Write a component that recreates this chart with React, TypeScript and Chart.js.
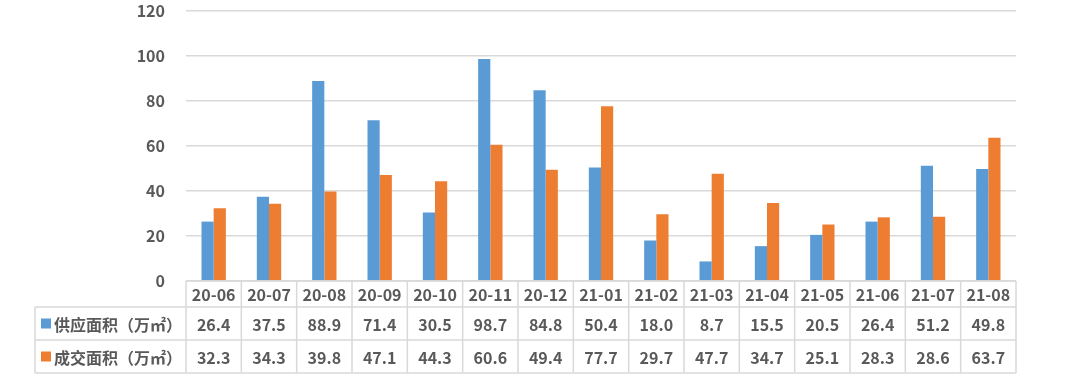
import React, { useEffect, useRef } from "react";
import { Chart, registerables } from "chart.js";

Chart.register(...registerables);

const categories = ["20-06", "20-07", "20-08", "20-09", "20-10", "20-11", "20-12", "21-01", "21-02", "21-03", "21-04", "21-05", "21-06", "21-07", "21-08"];
const supplyValues = [26.4, 37.5, 88.9, 71.4, 30.5, 98.7, 84.8, 50.4, 18.0, 8.7, 15.5, 20.5, 26.4, 51.2, 49.8];
const dealValues = [32.3, 34.3, 39.8, 47.1, 44.3, 60.6, 49.4, 77.7, 29.7, 47.7, 34.7, 25.1, 28.3, 28.6, 63.7];
const seriesNames = ["供应面积（万㎡）", "成交面积（万㎡）"];
const seriesColors = ["#5B9BD5", "#ED7D31"];

const FONT = '"Microsoft YaHei", "Noto Sans CJK SC", "Noto Sans", sans-serif';
const TEXT_COLOR = "#595959";
const LINE_COLOR = "#D9D9D9";

const tablePlugin = {
  id: "dataTable",
  afterDraw(chart: any) {
    const ctx = chart.ctx as CanvasRenderingContext2D;
    const xs = chart.scales.x;
    const area = chart.chartArea;
    const n = categories.length;
    const colW = (area.right - area.left) / n;
    const headerTop = area.bottom;
    const row1Top = headerTop + 26;
    const row2Top = row1Top + 33;
    const tableBottom = row2Top + 33;
    const labelLeft = 35;

    ctx.save();
    ctx.strokeStyle = LINE_COLOR;
    ctx.lineWidth = 1.5;
    ctx.beginPath();
    ctx.moveTo(area.left, headerTop);
    ctx.lineTo(area.right, headerTop);
    ctx.moveTo(labelLeft, row1Top);
    ctx.lineTo(area.right, row1Top);
    ctx.moveTo(labelLeft, row2Top);
    ctx.lineTo(area.right, row2Top);
    ctx.moveTo(labelLeft, tableBottom);
    ctx.lineTo(area.right, tableBottom);
    ctx.moveTo(labelLeft, row1Top);
    ctx.lineTo(labelLeft, tableBottom);
    for (let i = 0; i <= n; i++) {
      const x = area.left + i * colW;
      ctx.moveTo(x, headerTop);
      ctx.lineTo(x, tableBottom);
    }
    ctx.stroke();

    ctx.fillStyle = TEXT_COLOR;
    ctx.font = `bold 16px ${FONT}`;
    ctx.textAlign = "center";
    ctx.textBaseline = "middle";
    categories.forEach((c, i) => {
      const cx = xs.getPixelForValue(i);
      ctx.fillText(c, cx, (headerTop + row1Top) / 2 + 1);
      ctx.fillText(supplyValues[i].toFixed(1), cx, (row1Top + row2Top) / 2 + 1);
      ctx.fillText(dealValues[i].toFixed(1), cx, (row2Top + tableBottom) / 2 + 1);
    });

    const rows = [[row1Top, row2Top], [row2Top, tableBottom]];
    rows.forEach(([t, b], k) => {
      const cy = (t + b) / 2;
      ctx.fillStyle = seriesColors[k];
      ctx.fillRect(41, cy - 5, 10, 10);
      ctx.fillStyle = TEXT_COLOR;
      ctx.textAlign = "left";
      ctx.fillText(seriesNames[k], 54, cy + 1);
    });
    ctx.restore();
  },
};

export default function App() {
  const ref = useRef<HTMLCanvasElement | null>(null);
  useEffect(() => {
    document.body.style.margin = "0";
    const chart = new Chart(ref.current as HTMLCanvasElement, {
      type: "bar",
      data: {
        labels: categories,
        datasets: [
          { label: seriesNames[0], data: supplyValues, backgroundColor: seriesColors[0], barPercentage: 1, categoryPercentage: 0.44 },
          { label: seriesNames[1], data: dealValues, backgroundColor: seriesColors[1], barPercentage: 1, categoryPercentage: 0.44 },
        ],
      },
      options: {
        animation: false,
        responsive: false,
        maintainAspectRatio: false,
        layout: { padding: { top: 11, right: 64, bottom: 111, left: 0 } },
        plugins: { legend: { display: false }, tooltip: { enabled: false } },
        scales: {
          x: { display: false },
          y: {
            min: 0,
            max: 120,
            afterFit: (s: any) => { s.width = 186; },
            border: { display: false },
            grid: { color: LINE_COLOR, lineWidth: 1.5, drawTicks: true, tickLength: 21, tickColor: "rgba(0,0,0,0)" },
            ticks: { stepSize: 20, padding: 0, color: TEXT_COLOR, font: { family: FONT, size: 16, weight: "bold" } },
          },
        },
      },
      plugins: [tablePlugin],
    });
    return () => chart.destroy();
  }, []);
  return (
    <div style={{ position: "absolute", left: 0, top: 0, width: 1080, height: 392, background: "#fff" }}>
      <canvas ref={ref} width={1080} height={392} />
    </div>
  );
}
